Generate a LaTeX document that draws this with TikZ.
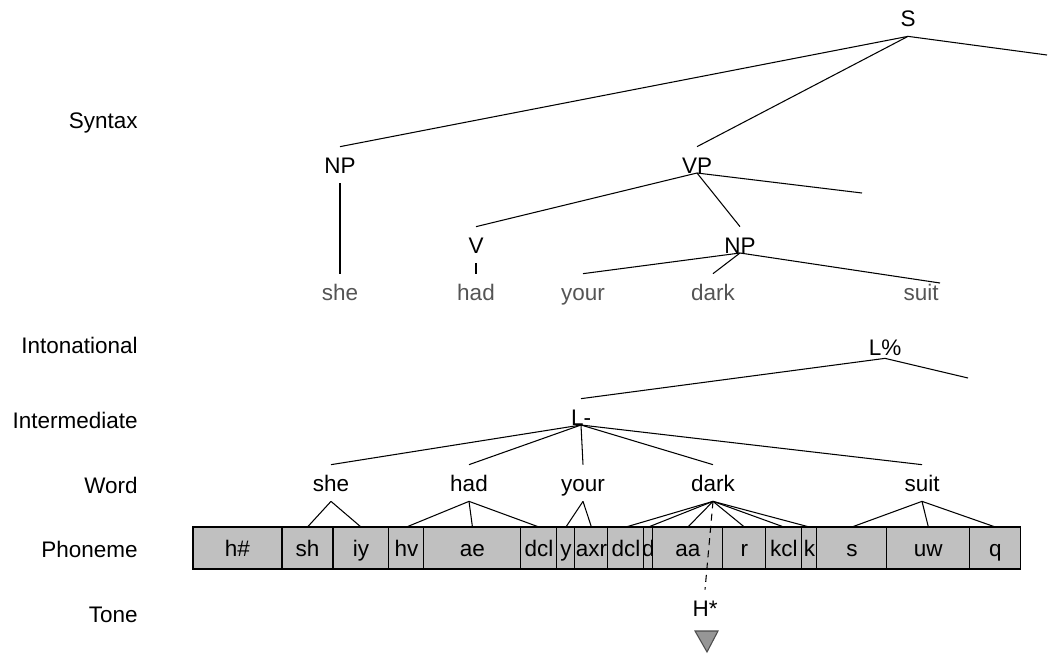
\documentclass[tikz,border=0pt]{standalone}
\usepackage{fontspec}
\setmainfont{Liberation Sans}
\usetikzlibrary{positioning}
\definecolor{phfill}{RGB}{192,192,192}
\definecolor{tonefill}{RGB}{150,150,150}
\definecolor{wordgray}{RGB}{85,85,85}

\begin{document}
\begin{tikzpicture}[
            x=0.02cm, y=-0.02cm,
            font=\fontsize{12.8}{15}\selectfont,
            tn/.style={inner xsep=2pt, inner ysep=0.2cm, text height=0.32cm, text depth=0pt},
            gw/.style={tn, text=wordgray},
            lbl/.style={anchor=east, inner xsep=0pt, text height=0.32cm, text depth=0pt},
            ph/.style={draw, line width=0.6pt, fill=phfill, outer sep=0pt, inner xsep=0pt, minimum height=0.84cm, text height=0.32cm, text depth=0pt},
            br/.style={line width=0.6pt}
        ]
            \useasboundingbox (0,0) rectangle (1048,653);

            % tier labels
            \node[lbl] (lsyn) at (138,120) {Syntax};
            \node[lbl] (lint) at (138,345) {Intonational};
            \node[lbl] (lmid) at (138,420) {Intermediate};
            \node[lbl] (lwrd) at (138,485) {Word};
            \node[lbl] (lpho) at (138,549) {Phoneme};
            \node[lbl] (lton) at (138,614) {Tone};

            % syntax tree
            \node[tn] (s) at (908,18) {S};
            \node[tn] (np) at (340,165) {NP};
            \node[tn] (vp) at (697,165) {VP};
            \node[tn] (v) at (476,245) {V};
            \node[tn] (np2) at (740,245) {NP};
            \node[gw] (sshe) at (340,292) {she};
            \node[gw] (shad) at (476,292) {had};
            \node[gw] (syour) at (583,292) {your};
            \node[gw] (sdark) at (713,292) {dark};
            \node[gw] (ssuit) at (921,292) {suit};
            \coordinate (sr) at (1047,55);
            \coordinate (vpr) at (862,193);
            \coordinate (np2r) at (940,283);

            \draw[br] (s.south) -- (np.north);
            \draw[br] (s.south) -- (vp.north);
            \draw[br] (s.south) -- (sr);
            \draw[br] (np.south) -- (sshe.north);
            \draw[br] (vp.base) -- (v.north);
            \draw[br] (vp.base) -- (np2.north);
            \draw[br] (vp.base) -- (vpr);
            \draw[br] (v.south) -- (shad.north);
            \draw[br] (np2.base) -- (syour.north);
            \draw[br] (np2.base) -- (sdark.north);
            \draw[br] (np2.base) -- (np2r);

            % intonational and intermediate phrases
            \node[tn, inner ysep=0.06cm] (lp) at (885,347) {L\%};
            \node[tn] (lm) at (581,417) {L-};
            \coordinate (lpr) at (968,378);
            \draw[br] (lp.south) -- (lm.north);
            \draw[br] (lp.south) -- (lpr);

            % words
            \node[tn] (w1) at (331,483) {she};
            \node[tn] (w2) at (469,483) {had};
            \node[tn] (w3) at (583,483) {your};
            \node[tn] (w4) at (713,483) {dark};
            \node[tn] (w5) at (922,483) {suit};
            \draw[br] (lm.base) -- (w1.north);
            \draw[br] (lm.base) -- (w2.north);
            \draw[br] (lm.base) -- (w3.north);
            \draw[br] (lm.base) -- (w4.north);
            \draw[br] (lm.base) -- (w5.north);

            % phonemes
            \node[ph, minimum width=1.78cm, anchor=west] (p1) at (193,548) {h\#};
            \node[ph, minimum width=1.02cm, right=0pt of p1] (p2) {sh};
            \node[ph, minimum width=1.12cm, right=0pt of p2] (p3) {iy};
            \node[ph, minimum width=0.70cm, right=0pt of p3] (p4) {hv};
            \node[ph, minimum width=1.94cm, right=0pt of p4] (p5) {ae};
            \node[ph, minimum width=0.72cm, right=0pt of p5] (p6) {dcl};
            \node[ph, minimum width=0.36cm, right=0pt of p6] (p7) {y};
            \node[ph, minimum width=0.66cm, right=0pt of p7] (p8) {axr};
            \node[ph, minimum width=0.72cm, right=0pt of p8] (p9) {dcl};
            \node[ph, minimum width=0.18cm, right=0pt of p9] (p10) {\makebox[0pt]{d}};
            \node[ph, minimum width=1.40cm, right=0pt of p10] (p11) {aa};
            \node[ph, minimum width=0.86cm, right=0pt of p11] (p12) {r};
            \node[ph, minimum width=0.72cm, right=0pt of p12] (p13) {kcl};
            \node[ph, minimum width=0.30cm, right=0pt of p13] (p14) {k};
            \node[ph, minimum width=1.40cm, right=0pt of p14] (p15) {s};
            \node[ph, minimum width=1.66cm, right=0pt of p15] (p16) {uw};
            \node[ph, minimum width=1.02cm, right=0pt of p16] (p17) {q};

            \draw[br] (w1.south) -- (p2.north);
            \draw[br] (w1.south) -- (p3.north);
            \draw[br] (w2.south) -- (p4.north);
            \draw[br] (w2.south) -- (p5.north);
            \draw[br] (w2.south) -- (p6.north);
            \draw[br] (w3.south) -- (p7.north);
            \draw[br] (w3.south) -- (p8.north);
            \draw[br] (w4.south) -- (p9.north);
            \draw[br] (w4.south) -- (p10.north);
            \draw[br] (w4.south) -- (p11.north);
            \draw[br] (w4.south) -- (p12.north);
            \draw[br] (w4.south) -- (p13.north);
            \draw[br] (w4.south) -- (p14.north);
            \draw[br] (w5.south) -- (p15.north);
            \draw[br] (w5.south) -- (p16.north);
            \draw[br] (w5.south) -- (p17.north);

            % tone
            \node[tn] (hs) at (705,608) {H*};
            \draw[br, dash pattern=on 4pt off 3pt] (w4.south) -- (hs.north);
            \draw[line width=0.6pt, draw=black!70, fill=tonefill] (695,631) -- (718,631) -- (707,652) -- cycle;
        \end{tikzpicture}
\end{document}
